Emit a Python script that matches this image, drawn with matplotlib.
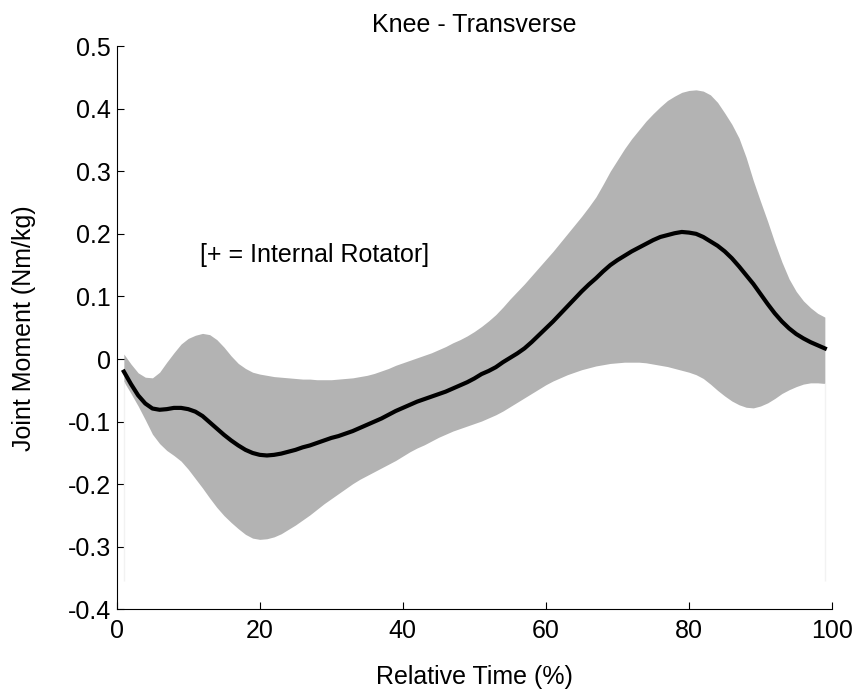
import numpy as np
import matplotlib
matplotlib.use("Agg")
import matplotlib.pyplot as plt
from matplotlib.ticker import FixedLocator, FuncFormatter

plt.rcParams['font.family'] = ['Liberation Sans', 'DejaVu Sans']
plt.rcParams['axes.unicode_minus'] = False

# percent of cycle
pct = np.arange(1, 100)

# mean knee transverse moment (Nm/kg)
mean_moment = [
    -0.020, -0.040, -0.058, -0.071, -0.079, -0.081, -0.080, -0.078, -0.078, -0.080,
    -0.084, -0.091, -0.101, -0.111, -0.121, -0.130, -0.138, -0.145, -0.150, -0.153,
    -0.154, -0.153, -0.151, -0.148, -0.145, -0.141, -0.138, -0.134, -0.130, -0.126,
    -0.123, -0.119, -0.115, -0.110, -0.105, -0.100, -0.095, -0.089, -0.083, -0.078,
    -0.073, -0.068, -0.064, -0.060, -0.056, -0.052, -0.047, -0.042, -0.037, -0.031,
    -0.024, -0.019, -0.013, -0.005, 0.002, 0.009, 0.017, 0.027, 0.038, 0.049,
    0.060, 0.072, 0.084, 0.096, 0.108, 0.119, 0.129, 0.140, 0.150, 0.158,
    0.165, 0.172, 0.178, 0.184, 0.190, 0.195, 0.198, 0.201, 0.203, 0.202,
    0.200, 0.195, 0.188, 0.181, 0.172, 0.161, 0.148, 0.134, 0.120, 0.104,
    0.088, 0.073, 0.060, 0.049, 0.040, 0.033, 0.027, 0.022, 0.017,
]

# +/- 1 SD band
upper_sd = [
    0.008, -0.008, -0.022, -0.029, -0.030, -0.021, -0.005, 0.010, 0.024, 0.033,
    0.038, 0.041, 0.039, 0.031, 0.019, 0.005, -0.007, -0.015, -0.021, -0.024,
    -0.026, -0.028, -0.029, -0.030, -0.031, -0.032, -0.032, -0.033, -0.033, -0.033,
    -0.032, -0.031, -0.030, -0.028, -0.026, -0.023, -0.019, -0.015, -0.010, -0.006,
    -0.002, 0.002, 0.006, 0.010, 0.015, 0.020, 0.026, 0.031, 0.037, 0.044,
    0.052, 0.061, 0.071, 0.083, 0.096, 0.108, 0.120, 0.133, 0.146, 0.159,
    0.172, 0.186, 0.200, 0.214, 0.228, 0.243, 0.259, 0.279, 0.300, 0.318,
    0.336, 0.352, 0.366, 0.380, 0.392, 0.403, 0.413, 0.420, 0.426, 0.429,
    0.430, 0.428, 0.422, 0.410, 0.393, 0.375, 0.353, 0.322, 0.285, 0.252,
    0.220, 0.186, 0.155, 0.128, 0.108, 0.093, 0.082, 0.073, 0.067,
]
lower_sd = [
    -0.036, -0.055, -0.075, -0.097, -0.120, -0.135, -0.146, -0.154, -0.163, -0.176,
    -0.191, -0.206, -0.222, -0.237, -0.250, -0.261, -0.271, -0.280, -0.286, -0.288,
    -0.287, -0.284, -0.279, -0.272, -0.265, -0.257, -0.249, -0.240, -0.231, -0.223,
    -0.215, -0.207, -0.199, -0.192, -0.186, -0.180, -0.174, -0.168, -0.162, -0.155,
    -0.148, -0.142, -0.137, -0.131, -0.125, -0.120, -0.115, -0.111, -0.107, -0.103,
    -0.099, -0.094, -0.089, -0.083, -0.076, -0.069, -0.062, -0.055, -0.048, -0.041,
    -0.035, -0.030, -0.025, -0.021, -0.017, -0.014, -0.011, -0.009, -0.007, -0.006,
    -0.005, -0.005, -0.005, -0.006, -0.008, -0.010, -0.012, -0.015, -0.018, -0.021,
    -0.025, -0.031, -0.040, -0.050, -0.059, -0.067, -0.073, -0.077, -0.078, -0.075,
    -0.070, -0.063, -0.055, -0.049, -0.044, -0.040, -0.038, -0.038, -0.039,
]

x_ticks = [0, 20, 40, 60, 80, 100]
y_ticks = [-0.4, -0.3, -0.2, -0.1, 0, 0.1, 0.2, 0.3, 0.4, 0.5]

fig = plt.figure(figsize=(8.58, 6.93), dpi=100)
ax = fig.add_axes([0.1360, 0.1205, 0.8337, 0.8131])

ax.fill_between(pct, lower_sd, upper_sd, color='#b3b3b3', linewidth=0)
# faint edges of the masking patch under the band
ax.vlines([pct[0], pct[-1]], -0.354, [lower_sd[0], lower_sd[-1]], color='#f2f2f2', linewidth=1)
ax.plot(pct, mean_moment, color='black', linewidth=3, solid_joinstyle='round')

ax.set_xlim(0, 100)
ax.set_ylim(-0.4, 0.5)
ax.xaxis.set_major_locator(FixedLocator(x_ticks))
ax.yaxis.set_major_locator(FixedLocator(y_ticks))
ax.yaxis.set_major_formatter(FuncFormatter(lambda v, p: ('%g' % round(v, 1)).replace('\u2212', '-')))

for s in ['top', 'right']:
    ax.spines[s].set_visible(False)
for s in ['left', 'bottom']:
    ax.spines[s].set_linewidth(0.8)
ax.tick_params(direction='in', length=5, width=0.8, labelsize=18)
ax.tick_params(axis='x', pad=7)
ax.tick_params(axis='y', pad=4)

ax.set_title('Knee - Transverse', fontsize=18, pad=10)
ax.set_xlabel('Relative Time (%)', fontsize=18, labelpad=16)
ax.set_ylabel('Joint Moment (Nm/kg)', fontsize=18, labelpad=23)

ax.text(11.7, 0.166, '[+ = Internal Rotator]', fontsize=18, ha='left', va='center')

fig.savefig('out.png', dpi=100)
